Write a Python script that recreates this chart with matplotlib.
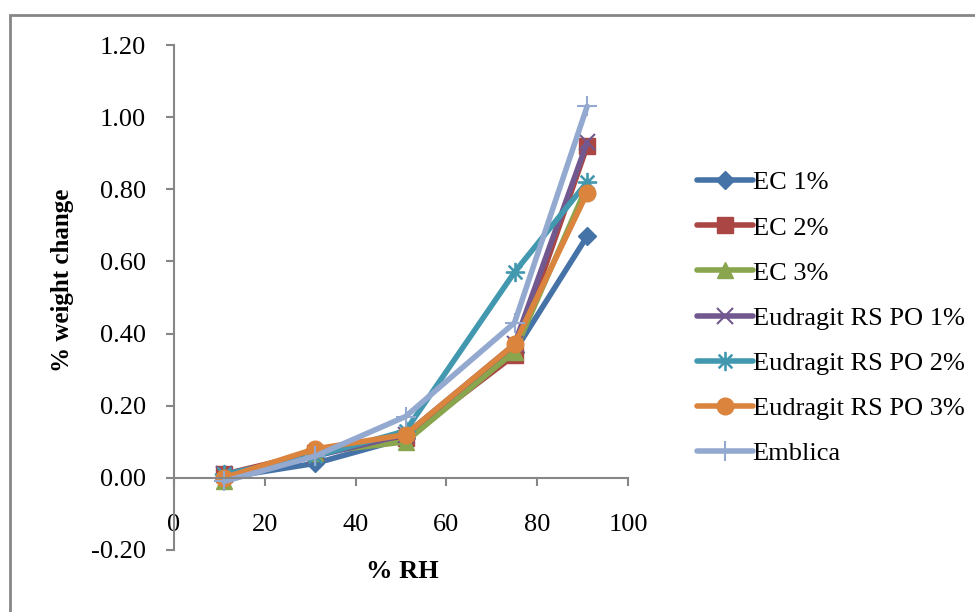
import matplotlib.pyplot as plt
from matplotlib.patches import Rectangle

# % relative humidity levels
rh = [11, 31, 51, 75, 91]

# % weight change for each formulation
ec1 = [0.00, 0.04, 0.11, 0.35, 0.67]
ec2 = [0.01, 0.07, 0.11, 0.34, 0.92]
ec3 = [-0.01, 0.07, 0.10, 0.35, 0.81]
eud1 = [0.01, 0.06, 0.12, 0.37, 0.93]
eud2 = [0.01, 0.06, 0.13, 0.57, 0.82]
eud3 = [0.00, 0.08, 0.12, 0.37, 0.79]
emblica = [-0.01, 0.06, 0.17, 0.43, 1.03]

labels = ['EC 1%', 'EC 2%', 'EC 3%', 'Eudragit RS PO 1%',
          'Eudragit RS PO 2%', 'Eudragit RS PO 3%', 'Emblica']
colors = ['#4572A7', '#AA4643', '#89A54E', '#71588F', '#4198AF', '#DB843D', '#93A9CF']
markers = ['D', 's', '^', 'x', '$\u2733$', 'o', '+']
msizes = [9, 11, 11, 11, 13, 12, 14]

plt.rcParams['font.family'] = ['Liberation Serif', 'DejaVu Serif']

fig = plt.figure(figsize=(9.75, 6.12), dpi=100)
ax = fig.add_axes([174/975, 1 - 550/612, (628-174)/975, (550-45)/612])

series = [ec1, ec2, ec3, eud1, eud2, eud3, emblica]
for ys, lab, c, m, ms in zip(series, labels, colors, markers, msizes):
    mew = 1.5 if m in ('x', '+') else 1
    ax.plot(rh, ys, color=c, lw=4, marker=m, ms=ms, mew=mew,
            mfc=c, mec=c, label=lab, solid_capstyle='round', solid_joinstyle='round')

ax.set_xlim(0, 100)
ax.set_ylim(-0.2, 1.2)
ax.set_xticks(range(0, 101, 20))
ax.set_yticks([-0.2, 0, 0.2, 0.4, 0.6, 0.8, 1.0, 1.2])
ax.set_yticklabels(['-0.20', '0.00', '0.20', '0.40', '0.60', '0.80', '1.00', '1.20'])

for s in ['top', 'right']:
    ax.spines[s].set_visible(False)
ax.spines['bottom'].set_position(('data', 0))
ax.spines['bottom'].set_color('#868686')
ax.spines['left'].set_color('#868686')
ax.spines['bottom'].set_linewidth(1.5)
ax.spines['left'].set_linewidth(1.5)
ax.tick_params(axis='both', colors='#868686', width=1.5, length=6, direction='out',
               labelsize=19, labelcolor='black')
ax.tick_params(axis='x', pad=20)
ax.tick_params(axis='y', pad=14)

fig.text(62/975, 1 - 280/612, '% weight change', rotation=90, ha='center', va='center',
         fontsize=18, fontweight='bold')
fig.text(402/975, 1 - 572/612, '% RH', ha='center', va='center',
         fontsize=19, fontweight='bold')

ax.legend(loc='center left', bbox_to_anchor=(684/975, 1 - 318/612),
          bbox_transform=fig.transFigure, frameon=False, fontsize=19,
          handlelength=2.1, handletextpad=0.0, labelspacing=0.82, borderpad=0)

fig.patches.append(Rectangle((10/975, -0.05), 1.05, 1 - 15/612 + 0.05, transform=fig.transFigure,
                             fill=False, edgecolor='#868686', lw=2))

fig.savefig('out.png', dpi=100)
